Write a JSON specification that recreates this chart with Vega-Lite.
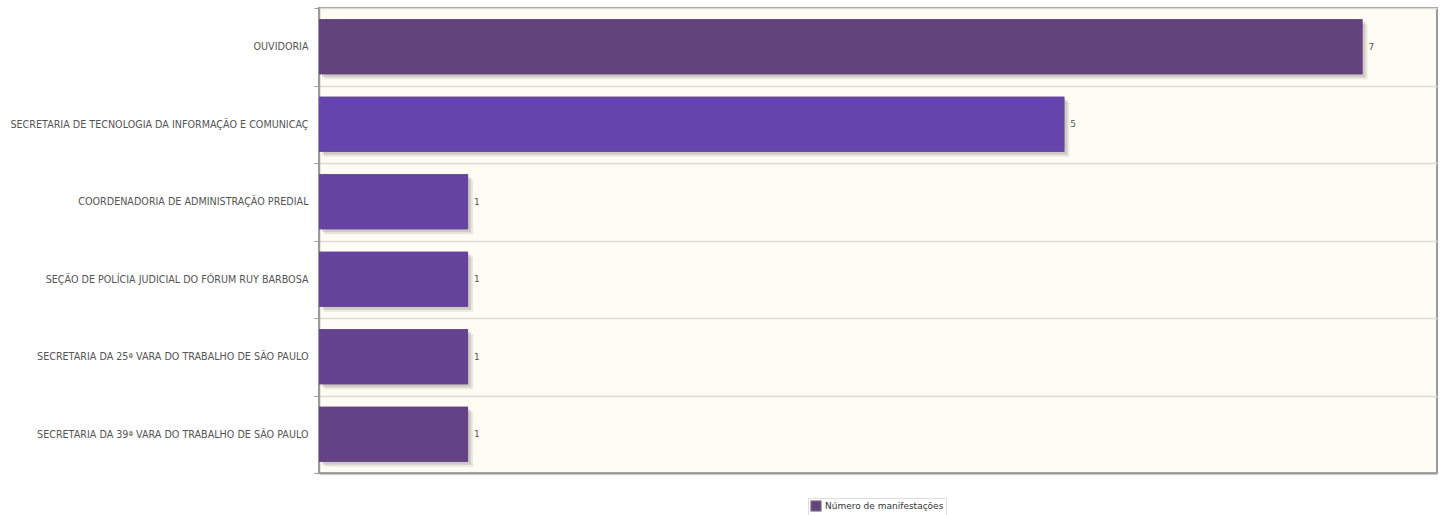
{
  "$schema": "https://vega.github.io/schema/vega-lite/v6.json",
  "width": 1118,
  "height": 465,
  "autosize": {"type": "none"},
  "padding": {"left": 319, "top": 8, "right": 8, "bottom": 42},
  "background": "#ffffff",
  "config": {
    "view": {"fill": "#fffcf4", "stroke": "#9a9a9a", "strokeWidth": 2},
    "font": "DejaVu Sans"
  },
  "data": {
    "values": [
      {"unidade": "OUVIDORIA", "valor": 7, "serie": "Número de manifestações"},
      {"unidade": "SECRETARIA DE TECNOLOGIA DA INFORMAÇÃO E COMUNICAÇ", "valor": 5, "serie": "Número de manifestações"},
      {"unidade": "COORDENADORIA DE ADMINISTRAÇÃO PREDIAL", "valor": 1, "serie": "Número de manifestações"},
      {"unidade": "SEÇÃO DE POLÍCIA JUDICIAL DO FÓRUM RUY BARBOSA", "valor": 1, "serie": "Número de manifestações"},
      {"unidade": "SECRETARIA DA 25ª VARA DO TRABALHO DE SÃO PAULO", "valor": 1, "serie": "Número de manifestações"},
      {"unidade": "SECRETARIA DA 39ª VARA DO TRABALHO DE SÃO PAULO", "valor": 1, "serie": "Número de manifestações"}
    ]
  },
  "encoding": {
    "y": {
      "field": "unidade",
      "type": "nominal",
      "sort": null,
      "title": null,
      "scale": {"paddingInner": 0, "paddingOuter": 0},
      "axis": {
        "grid": true,
        "gridColor": "#dddad3",
        "gridWidth": 1.5,
        "tickBand": "extent",
        "tickColor": "#9a9a9a",
        "tickSize": 5,
        "domainColor": "#9a9a9a",
        "domainWidth": 1.5,
        "labelFontSize": 9.6,
        "labelColor": "#555555",
        "labelPadding": 6,
        "labelLimit": 400
      }
    },
    "x": {
      "field": "valor",
      "type": "quantitative",
      "title": null,
      "scale": {"domain": [0, 7.5], "nice": false},
      "axis": {"labels": false, "ticks": false, "grid": false, "domainColor": "#9a9a9a", "domainWidth": 2}
    }
  },
  "layer": [
    {
      "mark": {"type": "bar", "height": {"band": 0.71}, "color": "#000000", "opacity": 0.08, "xOffset": 5, "yOffset": 5, "y2Offset": 5, "x2Offset": 5}
    },
    {
      "mark": {"type": "bar", "height": {"band": 0.71}, "color": "#000000", "opacity": 0.12, "xOffset": 3, "yOffset": 3, "y2Offset": 3, "x2Offset": 3}
    },
    {
      "mark": {"type": "bar", "height": {"band": 0.71}},
      "encoding": {
        "color": {
          "field": "serie",
          "type": "nominal",
          "scale": {"range": ["#63437c"]},
          "legend": {
            "title": null,
            "orient": "none",
            "legendX": 489,
            "legendY": 490,
            "symbolType": "square",
            "symbolSize": 110,
            "symbolStrokeColor": "#999999",
            "symbolStrokeWidth": 1,
            "labelFontSize": 9,
            "labelColor": "#333333",
            "labelOffset": 3,
            "padding": 2,
            "strokeColor": "#dddddd",
            "fillColor": "#ffffff"
          }
        }
      }
    },
    {
      "mark": {"type": "bar", "height": {"band": 0.71}},
      "encoding": {
        "color": {
          "field": "unidade",
          "type": "nominal",
          "sort": null,
          "scale": {"range": ["#63437c", "#6644ad", "#6444a0", "#64449a", "#644390", "#634285"]},
          "legend": null
        }
      }
    },
    {
      "mark": {"type": "text", "align": "left", "dx": 6, "fontSize": 9, "color": "#555555"},
      "encoding": {"text": {"field": "valor", "type": "quantitative"}}
    }
  ],
  "resolve": {"scale": {"color": "independent"}}
}
